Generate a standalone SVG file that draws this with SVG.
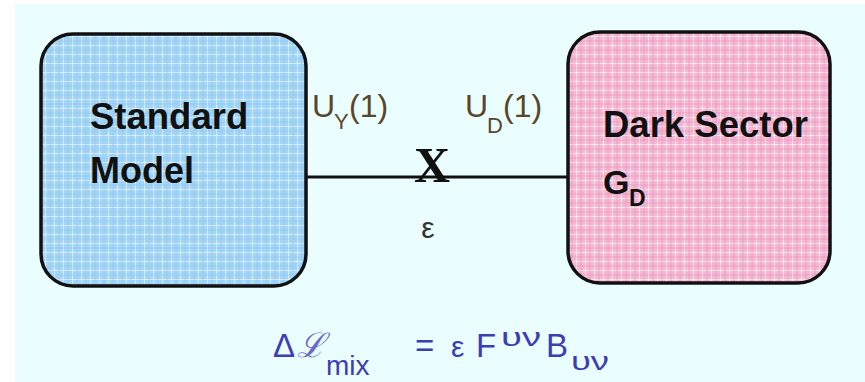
<svg xmlns="http://www.w3.org/2000/svg" width="865" height="382" viewBox="0 0 865 382">
  <style>
    .box { stroke: #111; stroke-width: 3.5; }
    .lbl { font-family: "Liberation Sans", Arial, sans-serif; font-weight: bold; fill: #111; }
    .u { font-family: "Liberation Sans", Arial, sans-serif; fill: #5a4628; }
    .f { font-family: "Liberation Sans", Arial, sans-serif; fill: #3d3db4; }
  </style>
  <defs>
    <pattern id="gridBlue" width="9" height="9" patternUnits="userSpaceOnUse">
      <rect width="9" height="9" fill="#A3D5F7"/>
      <path d="M0 0.5H9M0.5 0V9" stroke="#ffffff" stroke-opacity="0.55" stroke-width="1"/>
      <path d="M0 5H9M5 0V9" stroke="#8cc8f2" stroke-opacity="0.6" stroke-width="1"/>
    </pattern>
    <pattern id="gridPink" width="9" height="9" patternUnits="userSpaceOnUse">
      <rect width="9" height="9" fill="#F4B8D3"/>
      <path d="M0 0.5H9M0.5 0V9" stroke="#ffffff" stroke-opacity="0.6" stroke-width="1"/>
      <path d="M0 5H9M5 0V9" stroke="#ea8fb9" stroke-opacity="0.6" stroke-width="1"/>
    </pattern>
  </defs>

  <rect x="15" y="4" width="850" height="378" fill="#EBFEFF"/>

  <g id="connectors">
    <line x1="306" y1="177" x2="568" y2="177" stroke="#111" stroke-width="3"/>
  </g>

  <g id="standard-model">
    <rect class="box" x="41" y="34" width="265" height="252" rx="32" ry="32" fill="url(#gridBlue)"/>
    <text class="lbl" x="90" y="129" font-size="36.5">Standard</text>
    <text class="lbl" x="90" y="183" font-size="36">Model</text>
  </g>

  <g id="dark-sector">
    <rect class="box" x="568" y="32" width="262" height="251" rx="32" ry="32" fill="url(#gridPink)"/>
    <text class="lbl" x="603" y="137" font-size="36.5">Dark Sector</text>
    <text class="lbl" x="603" y="194" font-size="34">G</text>
    <text class="lbl" x="629" y="206" font-size="23">D</text>
  </g>

  <g id="mixing">
    <text class="u" x="312" y="117" font-size="32">U</text>
    <text class="u" x="334" y="129" font-size="22">Y</text>
    <text class="u" x="349" y="117" font-size="32">(1)</text>
    <text class="u" x="465" y="117" font-size="32">U</text>
    <text class="u" x="487" y="133" font-size="22">D</text>
    <text class="u" x="503" y="117" font-size="32">(1)</text>
    <text x="432" y="182" font-family="Liberation Serif, 'Times New Roman', serif" font-weight="bold" font-size="50" fill="#111" text-anchor="middle">X</text>
    <text x="428" y="238" font-family="Liberation Sans, Arial, sans-serif" font-size="30" fill="#333" text-anchor="middle">ε</text>
  </g>

  <g id="formula">
    <text class="f" x="273" y="357" font-size="33">Δ</text>
    <text x="297" y="357" font-family="DejaVu Serif, serif" font-style="italic" font-size="34" fill="#6a6ac8">ℒ</text>
    <text class="f" x="326" y="375" font-size="28">mix</text>
    <text class="f" x="415" y="357" font-size="33">=</text>
    <text class="f" x="451" y="357" font-size="30">ε</text>
    <text class="f" x="476" y="357" font-size="33">F</text>
    <text class="f" x="501" y="346" font-size="26" textLength="40" lengthAdjust="spacingAndGlyphs">υν</text>
    <text class="f" x="546" y="357" font-size="33">B</text>
    <text class="f" x="571" y="370" font-size="26" textLength="38" lengthAdjust="spacingAndGlyphs">υν</text>
  </g>
</svg>
